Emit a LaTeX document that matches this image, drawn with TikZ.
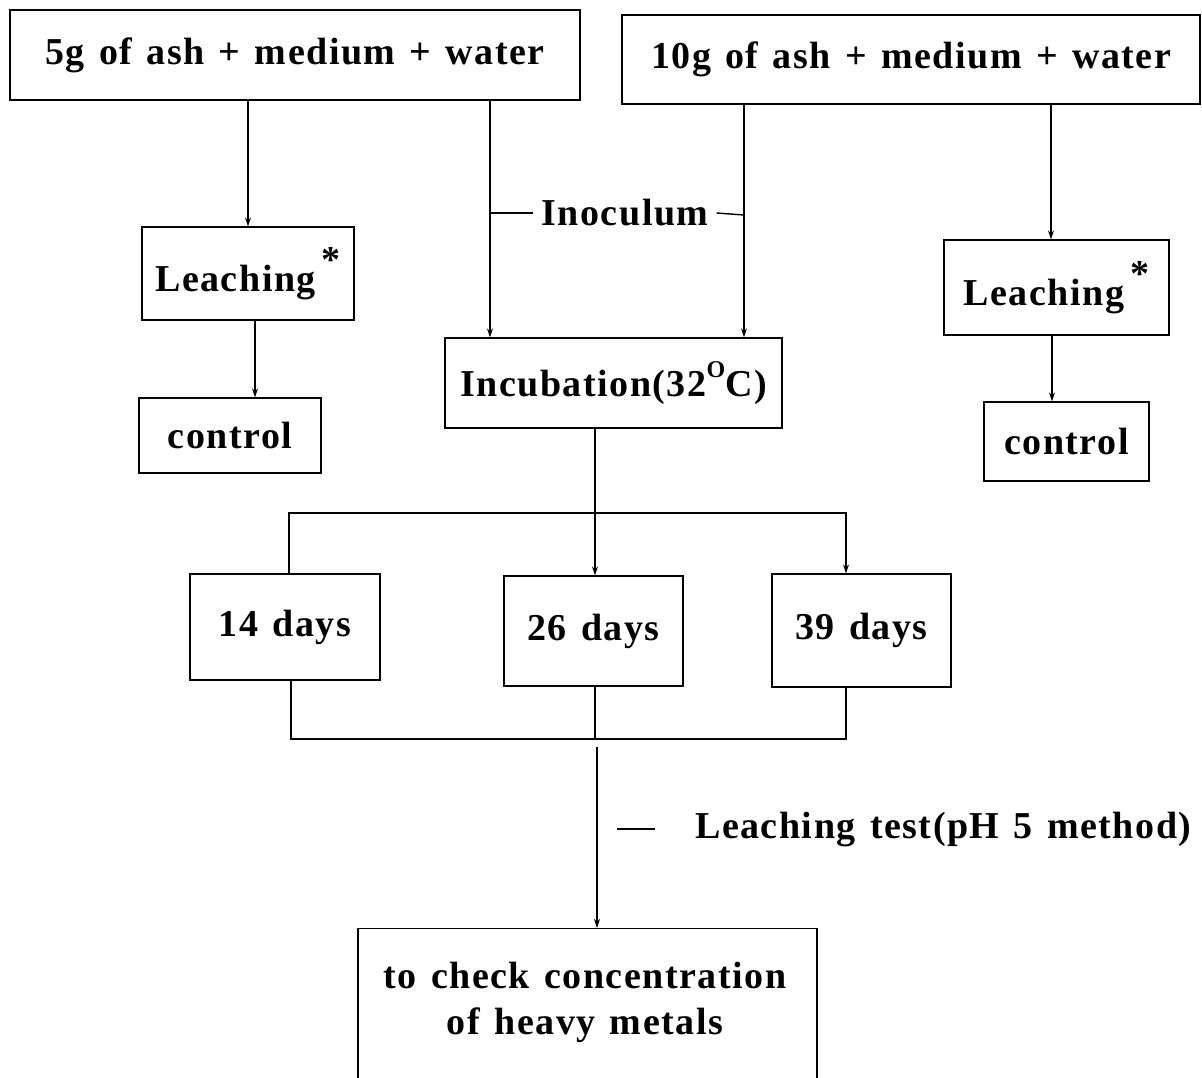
\documentclass[tikz,border=0pt]{standalone}
\usepackage{fontspec}
\usetikzlibrary{arrows.meta}
% heavy serif with a little extra tracking, as used for every label
\newfontfamily\labelfont{Liberation Serif}[LetterSpace=4,WordSpace=1.3]
\begin{document}
\begin{tikzpicture}[x=1pt,y=-1pt,
  box/.style={draw, line width=1.3pt, inner sep=0pt},
  up/.style={font=\labelfont\bfseries\fontsize{38}{46}\selectfont},
  conn/.style={line width=1.4pt},
  busline/.style={line width=2.4pt},
  tip/.style={-{Stealth[length=9pt,width=6pt]}},
  arr/.style={conn,tip}]
\useasboundingbox[fill=white] (0,0) rectangle (1202,1077);
\clip (0,0) rectangle (1202,1077);

% starting mixtures
\node[box,up,minimum width=570,minimum height=90] (A) at (295,55) {5g of ash + medium + water};
\node[box,up,minimum width=578,minimum height=89] (B) at (911,59.5) {10g of ash + medium + water};

% control branches
\node[box,up,minimum width=212,minimum height=93] (LL) at (248,273.5) {Leaching\hspace{6pt}\raisebox{0.5em}{*}};
\node[box,up,minimum width=182,minimum height=75] (CL) at (230,435.5) {control};
\node[box,up,minimum width=225,minimum height=95] (LR) at (1056.5,287.5) {Leaching\hspace{6pt}\raisebox{0.5em}{*}};
\node[box,up,minimum width=165,minimum height=79] (CR) at (1066.5,441.5) {control};

% incubation
\node[box,up,minimum width=337,minimum height=90] (Inc) at (613.5,383) {Incubation(32\raisebox{0.5em}{\fontsize{24}{24}\selectfont O}C)};
\node[up,inner xsep=8pt,inner ysep=0pt] (inoc) at (625,213) {Inoculum};

% sampling times
\node[box,up,minimum width=190,minimum height=106] (D14) at (285,627) {14 days};
\node[box,up,minimum width=179,minimum height=110] (D26) at (593.5,631) {26 days};
\node[box,up,minimum width=179,minimum height=113] (D39) at (861.5,630.5) {39 days};

% final analysis
\node[box,anchor=north,minimum width=459,minimum height=220] (fin) at (587.5,928) {};
\node[up,align=center] (fintext) at (585,1002) {to check concentration\\of heavy metals};
\node[up,anchor=west,inner sep=0pt] (ltest) at (695,829) {Leaching test(pH 5 method)};

\coordinate (topbus) at (595,513);
\coordinate (botbus) at (595,739);
\coordinate (resume) at (597,747);
\coordinate (ltick) at (617,829);

% connectors
\draw[arr] (A.south -| 248,0) -- (LL.north -| 248,0);
\draw[arr] (LL.south -| 255,0) -- (CL.north -| 255,0);
\draw[arr] (A.south -| 490,0) -- (Inc.north -| 490,0);
\draw[arr] (B.south -| 744,0) -- (Inc.north -| 744,0);
\draw[arr] (B.south -| 1051,0) -- (LR.north -| 1051,0);
\draw[arr] (LR.south -| 1052,0) -- (CR.north -| 1052,0);
\draw[conn] (inoc.west) -- (inoc.west -| 490,0);
\draw[conn] (inoc.east) -- (744,215);

\draw[arr] (Inc.south -| 595,0) -- (D26.north -| 595,0);
\draw[busline] (D14.north -| 289,0) |- (topbus);
\draw[busline] (topbus) -| (846,560);
\draw[arr] (846,560) -- (D39.north -| 846,0);

\draw[busline] (D14.south -| 291,0) |- (botbus) -| (D39.south -| 846,0);
\draw[conn] (D26.south -| 595,0) -- (botbus);
\draw[arr] (resume) -- (fin.north -| 597,0);
\draw[conn] (ltick) -- ++(38,0);
\end{tikzpicture}
\end{document}
